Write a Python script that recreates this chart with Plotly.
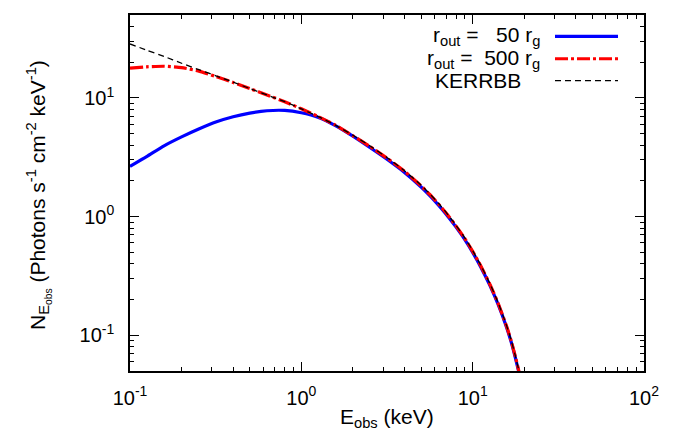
import math
import plotly.graph_objects as go

# ---- data (keV, photons s^-1 cm^-2 keV^-1) ----
energy = [0.1, 0.125, 0.158, 0.2, 0.25, 0.32, 0.4, 0.5, 0.63, 0.8, 1.0, 1.26, 1.58,
          2.0, 2.5, 3.16, 4.0, 5.0, 5.6, 6.3, 7.0, 7.9, 8.9, 10.0, 11.2, 12.6, 14.1,
          15.8, 16.8, 17.8, 18.8, 20.0]

n_rout50 = [2.65, 3.2, 3.95, 4.7, 5.45, 6.3, 6.95, 7.45, 7.8, 7.85, 7.5, 6.85, 5.85,
            4.76, 3.84, 3.04, 2.355, 1.776, 1.511, 1.256, 1.048, 0.835, 0.655, 0.499,
            0.3715, 0.2634, 0.181, 0.1158, 0.0873, 0.0637, 0.0458, 0.0314]

n_rout500 = [17.8, 18.3, 18.5, 18.0, 16.9, 15.1, 13.5, 12.0, 10.6, 9.3, 8.1, 6.95, 5.9,
             4.80, 3.92, 3.11, 2.41, 1.815, 1.545, 1.285, 1.072, 0.853, 0.670, 0.510,
             0.380, 0.269, 0.185, 0.1183, 0.0892, 0.0651, 0.0468, 0.032]

n_kerrbb = [28.5, 25.3, 22.4, 19.6, 17.4, 15.3, 13.6, 12.0, 10.6, 9.3, 8.1, 6.95, 5.9,
            4.85, 3.97, 3.15, 2.44, 1.84, 1.566, 1.302, 1.086, 0.865, 0.679, 0.517,
            0.385, 0.273, 0.1876, 0.120, 0.0905, 0.066, 0.0475, 0.0325]

legend_labels = ["r<sub>out</sub> =\u00a0\u00a0\u00a050 r<sub>g</sub>",
                 "r<sub>out</sub> =\u00a0\u00a0500 r<sub>g</sub>",
                 "KERRBB"]

x_major = [0.1, 1, 10, 100]
x_major_text = ["10<sup>-1</sup>", "10<sup>0</sup>", "10<sup>1</sup>", "10<sup>2</sup>"]
y_major = [0.1, 1, 10]
y_major_text = ["10<sup>-1</sup>", "10<sup>0</sup>", "10<sup>1</sup>"]

FONT = "Liberation Sans, Arial, Helvetica, sans-serif"
FS_TICK = 20
FS = 21

BLUE = dict(color="#0000ff", width=3.2, dash="solid")
RED = dict(color="#ff0000", width=3.2, dash="13px,3px,3px,3px")
BLACK = dict(color="#000000", width=1.3, dash="6px,4px")

fig = go.Figure()
for yvals, st, name in [(n_rout50, BLUE, legend_labels[0]),
                        (n_rout500, RED, legend_labels[1]),
                        (n_kerrbb, BLACK, legend_labels[2])]:
    fig.add_trace(go.Scatter(x=energy, y=yvals, mode="lines", name=name,
                             line=dict(**st, shape="spline", smoothing=0.5)))

def minor_vals(lo_exp, hi_exp, vmin, vmax):
    out = []
    for e in range(lo_exp, hi_exp + 1):
        for m in range(2, 10):
            v = m * 10 ** e
            if vmin < v < vmax:
                out.append(v)
    return out

axis_common = dict(
    type="log", showgrid=False, zeroline=False, showline=True, linecolor="black",
    linewidth=1.5, mirror="allticks", ticks="inside", ticklen=9, tickwidth=1.3,
    tickcolor="black", tickfont=dict(family=FONT, size=FS_TICK, color="black"),
    tickmode="array",
)

fig.update_xaxes(**axis_common, range=[-1, 2], tickvals=x_major, ticktext=x_major_text,
                 ticklabelstandoff=8,
                 minor=dict(ticks="inside", ticklen=4.5, tickwidth=1.3, tickcolor="black",
                            tickmode="array", tickvals=minor_vals(-1, 1, 0.1, 100), showgrid=False))
fig.update_yaxes(**axis_common, range=[math.log10(0.05), math.log10(50)],
                 tickvals=y_major, ticktext=y_major_text, ticklabelstandoff=10,
                 minor=dict(ticks="inside", ticklen=4.5, tickwidth=1.3, tickcolor="black",
                            tickmode="array", tickvals=minor_vals(-2, 1, 0.05, 50), showgrid=False))

# plot area in pixels: x 122..636, y 5..363
L, R, T, B = 122, 42, 5, 69
W, H = 678, 432
pw, ph = W - L - R, H - T - B

def px(x):
    return (x - L) / pw

def py(y):
    return (H - B - y) / ph

annotations = []
shapes = []
# legend (text right-justified, sample line to the right)
rows_y = [26.5, 49, 71]
text_right = [533, 533, 514]
for lab, ry, tr, st in zip(legend_labels, rows_y, text_right, [BLUE, RED, BLACK]):
    annotations.append(dict(x=px(tr), y=py(ry), xref="paper", yref="paper", text=lab,
                            showarrow=False, xanchor="right", yanchor="middle", borderpad=0,
                            font=dict(family=FONT, size=FS, color="black")))
    shapes.append(dict(type="line", xref="paper", yref="paper", x0=px(547), x1=px(610),
                       y0=py(ry), y1=py(ry), line=st))

# axis titles
annotations.append(dict(x=px(379), y=py(410), xref="paper", yref="paper",
                        text="E<sub>obs</sub> (keV)", showarrow=False,
                        xanchor="center", yanchor="middle", borderpad=0,
                        font=dict(family=FONT, size=FS, color="black")))
annotations.append(dict(x=px(31), y=py(186), xref="paper", yref="paper",
                        text="N<sub>E<sub>obs</sub></sub> (Photons s<sup>-1</sup> cm<sup>-2</sup> keV<sup>-1</sup>)",
                        showarrow=False, textangle=-90, xanchor="center", yanchor="middle",
                        borderpad=0, font=dict(family=FONT, size=FS, color="black")))

fig.update_layout(width=W, height=H, margin=dict(l=L, r=R, t=T, b=B, pad=0),
                  plot_bgcolor="white", paper_bgcolor="white", showlegend=False,
                  annotations=annotations, shapes=shapes,
                  font=dict(family=FONT, size=FS, color="black"))

fig.write_html("out.html")
